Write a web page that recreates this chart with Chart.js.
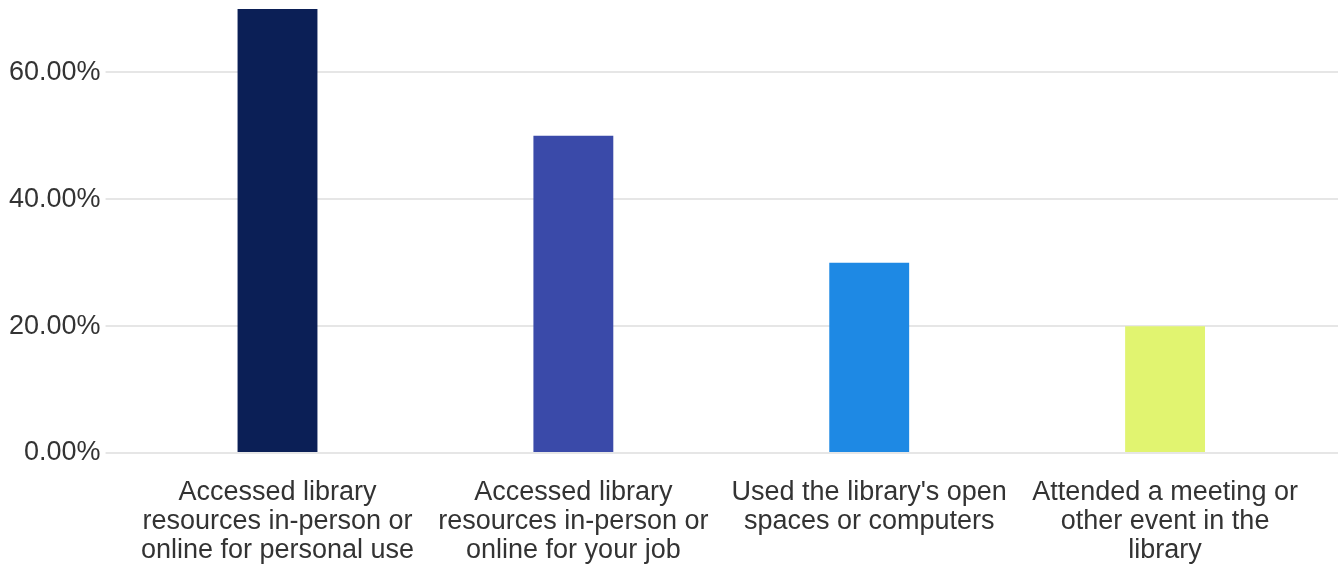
<!DOCTYPE html>
<html>
<head>
<meta charset="utf-8">
<script src="https://cdn.jsdelivr.net/npm/chart.js@4/dist/chart.umd.min.js"></script>
<style>
html,body{margin:0;padding:0;background:#fff;}
#wrap{width:1340px;height:568px;position:relative;}
</style>
</head>
<body>
<div id="wrap"><canvas id="c"></canvas></div>
<script>
const categories = [
  ["Accessed library", "resources in-person or", "online for personal use"],
  ["Accessed library", "resources in-person or", "online for your job"],
  ["Used the library's open", "spaces or computers"],
  ["Attended a meeting or", "other event in the", "library"]
];
const values = [70, 50, 30, 20];
const barColors = ["#0b1f56", "#3a4aa9", "#1e89e4", "#e1f470"];
const yTickValues = [0, 20, 40, 60];
const yMin = 0, yMax = 70;

const FONT = "'Liberation Sans', Arial, sans-serif";
const gridColor = "#e6e6e6";
const noPad = (s) => { s.paddingTop = 0; s.paddingBottom = 0; };

new Chart(document.getElementById('c'), {
  type: 'bar',
  data: {
    labels: categories,
    datasets: [{
      data: values,
      backgroundColor: barColors,
      borderWidth: 0,
      categoryPercentage: 1,
      barPercentage: 0.27
    }]
  },
  options: {
    responsive: true,
    maintainAspectRatio: false,
    animation: false,
    layout: { padding: { top: 9, left: 4, right: 2, bottom: 4 } },
    plugins: { legend: { display: false }, tooltip: { enabled: false } },
    scales: {
      x: {
        afterFit: (s) => { s.height = 111; },
        grid: { display: false, drawTicks: false },
        border: { display: false },
        ticks: {
          color: '#333333',
          font: { family: FONT, size: 27, lineHeight: 1.075 },
          padding: 25,
          maxRotation: 0,
          autoSkip: false
        }
      },
      y: {
        position: 'left',
        min: yMin, max: yMax,
        afterBuildTicks: (s) => { s.ticks = yTickValues.map(v => ({ value: v })); },
        afterFit: noPad,
        grid: { color: gridColor, lineWidth: 2, drawTicks: true, tickLength: 24 },
        border: { display: false },
        ticks: {
          color: '#333333',
          font: { family: FONT, size: 27 },
          padding: 5,
          callback: (v) => v.toFixed(2) + '%'
        }
      },
      y2: {
        position: 'right',
        min: yMin, max: yMax,
        afterBuildTicks: (s) => { s.ticks = yTickValues.map(v => ({ value: v })); },
        afterFit: noPad,
        grid: { color: gridColor, lineWidth: 2, drawTicks: true, tickLength: 25 },
        border: { display: false },
        ticks: { display: false }
      }
    }
  }
});
</script>
</body>
</html>
